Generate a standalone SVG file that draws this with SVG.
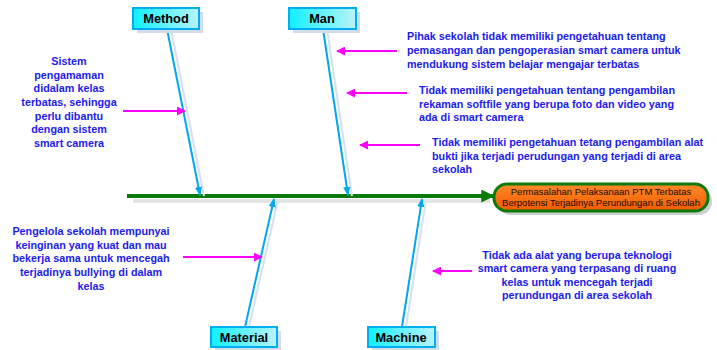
<svg xmlns="http://www.w3.org/2000/svg" width="717" height="350" viewBox="0 0 717 350">
<defs>
<linearGradient id="boxg" x1="0" y1="0" x2="1" y2="0">
<stop offset="0" stop-color="#10f0ff"/><stop offset="1" stop-color="#b8f4f8"/>
</linearGradient>
<linearGradient id="resg" x1="0" y1="0" x2="0" y2="1">
<stop offset="0" stop-color="#ff8a2a"/><stop offset="1" stop-color="#f05a00"/>
</linearGradient>
<marker id="mag" viewBox="0 0 10 10" refX="9" refY="5" markerWidth="9" markerHeight="9" orient="auto" markerUnits="userSpaceOnUse">
<path d="M0,0 L10,5 L0,10 Z" fill="#ff00ff"/>
</marker>
<marker id="blu" viewBox="0 0 10 10" refX="9" refY="5" markerWidth="9" markerHeight="9" orient="auto" markerUnits="userSpaceOnUse">
<path d="M0,1 L10,5 L0,9 Z" fill="#00a8f0"/>
</marker>
<marker id="grn" viewBox="0 0 10 10" refX="9" refY="5" markerWidth="13" markerHeight="13" orient="auto" markerUnits="userSpaceOnUse">
<path d="M0,0 L10,5 L0,10 Z" fill="#0a7a0a"/>
</marker>
</defs>
<style>
.box{fill:url(#boxg);stroke:#00aef0;stroke-width:2}
.shad{fill:#d4dcec}
.lbl{font-family:"Liberation Sans",Arial,sans-serif;font-weight:bold;font-size:12.8px;fill:#000;text-anchor:middle}
.bone{stroke:#00a8f0;stroke-width:2;fill:none}
.boneshad{stroke:#d8e0f0;stroke-width:2;fill:none}
.mag{stroke:#ff00ff;stroke-width:2;fill:none}
.t{font-family:"Liberation Sans",Arial,sans-serif;font-weight:bold;font-size:10.8px;fill:#1c1cf0}
.c{text-anchor:middle}
.res{font-family:"Liberation Sans",Arial,sans-serif;font-size:9.5px;fill:#1a0a00;text-anchor:middle}
</style>

<g id="connectors">
<line x1="133" y1="201" x2="490" y2="201" stroke="#e4e4e4" stroke-width="4"/>
<line x1="127" y1="196" x2="493" y2="196" stroke="#0a7a0a" stroke-width="4" marker-end="url(#grn)"/>
<line class="boneshad" x1="171" y1="29" x2="204" y2="196"/>
<line class="bone" x1="167" y1="29" x2="200" y2="195" marker-end="url(#blu)"/>
<line class="boneshad" x1="327" y1="29" x2="352" y2="196"/>
<line class="bone" x1="323" y1="29" x2="348" y2="195" marker-end="url(#blu)"/>
<line class="boneshad" x1="249" y1="327" x2="278" y2="200"/>
<line class="bone" x1="245" y1="327" x2="274" y2="199" marker-end="url(#blu)"/>
<line class="boneshad" x1="406" y1="327" x2="426" y2="200"/>
<line class="bone" x1="402" y1="327" x2="422" y2="199" marker-end="url(#blu)"/>
<line class="mag" x1="123" y1="111" x2="185" y2="111" marker-end="url(#mag)"/>
<line class="mag" x1="397" y1="51" x2="337" y2="51" marker-end="url(#mag)"/>
<line class="mag" x1="407" y1="93" x2="347" y2="93" marker-end="url(#mag)"/>
<line class="mag" x1="420" y1="145" x2="360" y2="145" marker-end="url(#mag)"/>
<line class="mag" x1="183" y1="257" x2="262" y2="257" marker-end="url(#mag)"/>
<line class="mag" x1="472" y1="271" x2="433" y2="271" marker-end="url(#mag)"/>
</g>

<g id="method">
<rect class="shad" x="137" y="12" width="66" height="21"/>
<rect class="box" x="133" y="8" width="66" height="21"/>
<text class="lbl" x="166" y="23">Method</text>
</g>
<g id="man">
<rect class="shad" x="293" y="12" width="67" height="21"/>
<rect class="box" x="289" y="8" width="67" height="21"/>
<text class="lbl" x="322" y="23">Man</text>
</g>
<g id="material">
<rect class="shad" x="215" y="331" width="66" height="20"/>
<rect class="box" x="211" y="327" width="66" height="20"/>
<text class="lbl" x="244" y="341.5">Material</text>
</g>
<g id="machine">
<rect class="shad" x="372" y="331" width="67" height="20"/>
<rect class="box" x="368" y="327" width="67" height="20"/>
<text class="lbl" x="401" y="341.5">Machine</text>
</g>

<g id="result">
<rect x="498" y="188" width="214" height="27" rx="13" fill="#d0d0d0"/>
<rect x="494" y="184" width="214" height="27" rx="13" fill="url(#resg)" stroke="#0a7a0a" stroke-width="3"/>
<text class="res" x="601" y="195">Permasalahan Pelaksanaan PTM Terbatas</text>
<text class="res" x="601" y="206">Berpotensi Terjadinya Perundungan di Sekolah</text>
</g>

<g id="note-method">
<text class="t c" x="69" y="65">Sistem</text>
<text class="t c" x="69" y="79">pengamaman</text>
<text class="t c" x="69" y="92">didalam kelas</text>
<text class="t c" x="69" y="106">terbatas, sehingga</text>
<text class="t c" x="69" y="120">perlu dibantu</text>
<text class="t c" x="69" y="133">dengan sistem</text>
<text class="t c" x="69" y="147">smart camera</text>
</g>
<g id="note-man-1">
<text class="t" x="407" y="40">Pihak sekolah tidak memiliki pengetahuan tentang</text>
<text class="t" x="407" y="54">pemasangan dan pengoperasian smart camera untuk</text>
<text class="t" x="407" y="68">mendukung sistem belajar mengajar terbatas</text>
</g>
<g id="note-man-2">
<text class="t" x="419" y="94">Tidak memiliki pengetahuan tentang pengambilan</text>
<text class="t" x="419" y="108">rekaman softfile yang berupa foto dan video yang</text>
<text class="t" x="419" y="121">ada di smart camera</text>
</g>
<g id="note-man-3">
<text class="t" x="432" y="146">Tidak memiliki pengetahuan tetang pengambilan alat</text>
<text class="t" x="432" y="160">bukti jika terjadi perudungan yang terjadi di area</text>
<text class="t" x="432" y="173">sekolah</text>
</g>
<g id="note-material">
<text class="t c" x="91" y="235">Pengelola sekolah mempunyai</text>
<text class="t c" x="91" y="249">keinginan yang kuat dan mau</text>
<text class="t c" x="91" y="262">bekerja sama untuk mencegah</text>
<text class="t c" x="91" y="276">terjadinya bullying di dalam</text>
<text class="t c" x="91" y="290">kelas</text>
</g>
<g id="note-machine">
<text class="t c" x="577" y="259">Tidak ada alat yang berupa teknologi</text>
<text class="t c" x="577" y="272">smart camera yang terpasang di ruang</text>
<text class="t c" x="577" y="286">kelas untuk mencegah terjadi</text>
<text class="t c" x="577" y="299">perundungan di area sekolah</text>
</g>
</svg>
